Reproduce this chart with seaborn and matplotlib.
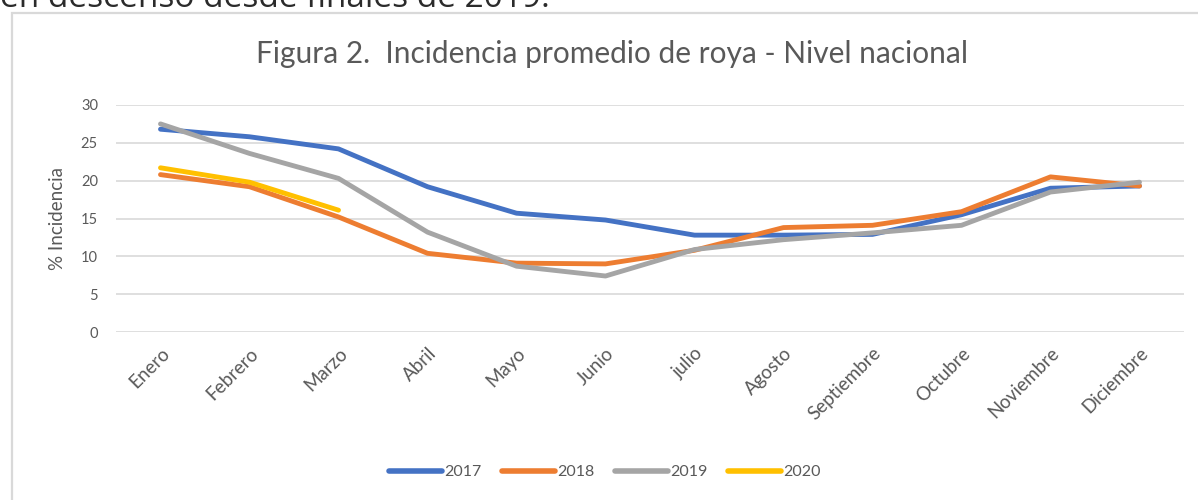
import pandas as pd
import seaborn as sns
import matplotlib.pyplot as plt
from matplotlib.patches import Rectangle

# datos
meses = ['Enero', 'Febrero', 'Marzo', 'Abril', 'Mayo', 'Junio', 'julio',
         'Agosto', 'Septiembre', 'Octubre', 'Noviembre', 'Diciembre']
anios = ['2017', '2018', '2019', '2020']
v2017 = [26.8, 25.8, 24.2, 19.2, 15.7, 14.8, 12.8, 12.8, 12.9, 15.5, 19.0, 19.3]
v2018 = [20.8, 19.2, 15.2, 10.4, 9.1, 9.0, 10.8, 13.8, 14.1, 15.9, 20.5, 19.3]
v2019 = [27.5, 23.6, 20.3, 13.2, 8.7, 7.4, 10.9, 12.2, 13.1, 14.1, 18.5, 19.8]
v2020 = [21.7, 19.8, 16.1]
colores = ['#4472C4', '#ED7D31', '#A5A5A5', '#FFC000']

filas = []
for anio, vals in zip(anios, [v2017, v2018, v2019, v2020]):
    for mes, v in zip(meses, vals):
        filas.append({'Mes': mes, 'Año': anio, 'Incidencia': v})
df = pd.DataFrame(filas)

sns.set_theme(style='white')
plt.rcParams['font.family'] = ['Lato', 'DejaVu Sans']
gris = '#595959'

fig = plt.figure(figsize=(11.98, 5), dpi=100)
ax = fig.add_axes([116 / 1198, 0.336, 1068 / 1198, 0.454])

sns.lineplot(data=df, x='Mes', y='Incidencia', hue='Año', palette=colores,
             sort=False, linewidth=3.5, ax=ax, legend=True)
for ln in ax.lines:
    ln.set_solid_capstyle('round')
    ln.set_solid_joinstyle('round')

ax.set_xlim(-0.5, 11.5)
ax.set_ylim(0, 30)
ax.set_yticks(range(0, 31, 5))
ax.yaxis.grid(True, color='#d9d9d9', linewidth=1.2)
ax.set_axisbelow(True)
for s in ax.spines.values():
    s.set_visible(False)
ax.tick_params(axis='y', length=0, pad=13, labelsize=10.5, labelcolor=gris)
ax.tick_params(axis='x', length=0, pad=9, labelsize=13.5, labelcolor=gris)
plt.setp(ax.get_xticklabels(), rotation=45, ha='right', rotation_mode='anchor')
ax.set_xlabel('')
ax.set_ylabel('% Incidencia', fontsize=13.5, color=gris, labelpad=11)

handles, labels = ax.get_legend_handles_labels()
ax.legend_.remove()
for h in handles:
    h.set_linewidth(4)
    h.set_solid_capstyle('round')
fig.legend(handles, labels, loc='center', bbox_to_anchor=(0.505, 0.056),
           ncol=4, frameon=False, fontsize=11.5, handlelength=3.3,
           handletextpad=0.15, columnspacing=1.3, labelcolor=gris)

fig.suptitle('Figura 2.  Incidencia promedio de roya - Nivel nacional',
             x=0.511, y=1 - 54 / 500, va='center', fontsize=21.5, color=gris)

# marco del grafico
fig.patches.append(Rectangle((12 / 1198, -0.1), 1.2, 1.0 - 13 / 500 + 0.1,
                             transform=fig.transFigure, fill=False,
                             edgecolor='#d9d9d9', linewidth=1.6, zorder=0))

# texto del documento, cortado arriba como en el original
fig.text(0.0, 1 - 7 / 500, 'en descenso desde finales de 2019.',
         fontsize=24, color='#2b2b2b', va='baseline', ha='left',
         family=['Open Sans', 'DejaVu Sans'])

fig.savefig('out.png', dpi=100)
